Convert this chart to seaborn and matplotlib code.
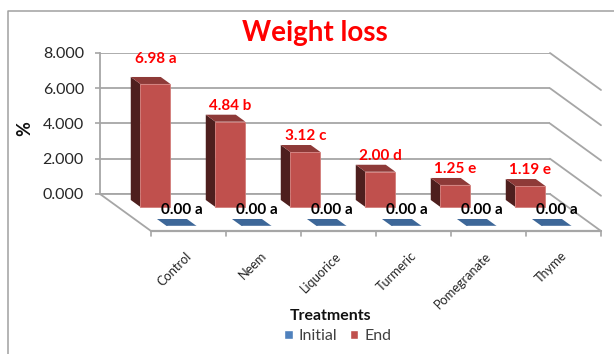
import matplotlib
matplotlib.use("Agg")
import matplotlib.pyplot as plt
from matplotlib.lines import Line2D
from matplotlib.patches import Polygon
from matplotlib.ticker import FuncFormatter
from matplotlib.transforms import ScaledTranslation
import pandas as pd
import seaborn as sns

treatments = ["Control", "Neem", "Liquorice", "Turmeric", "Pomegranate", "Thyme"]
initial_values = [0.00, 0.00, 0.00, 0.00, 0.00, 0.00]
end_values = [6.98, 4.84, 3.12, 2.00, 1.25, 1.19]
initial_letters = ["a", "a", "a", "a", "a", "a"]
end_letters = ["a", "b", "c", "d", "e", "e"]
y_ticks = [0, 2, 4, 6, 8]

sns.set_style("white")
plt.rcParams["font.family"] = ["Lato", "DejaVu Sans"]

W, H = 614, 354
fig = plt.figure(figsize=(W / 100, H / 100), dpi=100, facecolor="white")
ax = fig.add_axes([100 / W, 1 - 194 / H, 450 / W, 141 / H], facecolor="none")

df = pd.DataFrame({
    "Treatment": treatments * 2,
    "Weight": initial_values + end_values,
    "Series": ["Initial"] * 6 + ["End"] * 6,
})
sns.barplot(data=df, x="Treatment", y="Weight", hue="Series", hue_order=["Initial", "End"],
            dodge=False, width=0.4, saturation=1, errorbar=None,
            palette={"Initial": "#4F81BD", "End": "#C0504D"}, ax=ax)
ax.set_xlim(-0.5, 5.5)
ax.set_ylim(0, 8)

# Oblique projection: one unit of depth moves a point right and down the wall.
DX, DY = 51 / 75, 37 / 17.625
BAR_DEPTH = 7 / 37
END_FRONT, INITIAL_FRONT = 13 / 37, 32 / 37
GRID = "#a6a6a6"


def project(x, v, d):
    return x + DX * d, v - DY * d


def extrude(bar, front, side_color, top_color, zorder):
    x0, x1, v = bar.get_x(), bar.get_x() + bar.get_width(), bar.get_height()
    bar.set_xy(project(x0, 0, front))
    bar.set_clip_on(False)
    bar.set_zorder(zorder + 0.2)
    back = front - BAR_DEPTH
    if v > 0:
        side = [project(x0, 0, front), project(x0, v, front),
                project(x0, v, back), project(x0, 0, back)]
        ax.add_patch(Polygon(side, closed=True, fc=side_color, ec="none",
                             clip_on=False, zorder=zorder))
    top = [project(x0, v, front), project(x1, v, front),
           project(x1, v, back), project(x0, v, back)]
    ax.add_patch(Polygon(top, closed=True, fc=top_color, ec="none",
                         clip_on=False, zorder=zorder + 0.1))


for bar in ax.containers[1]:
    extrude(bar, END_FRONT, "#4E1F1E", "#8E3A38", 3)
    bar.set_edgecolor("#D27C79")
    bar.set_linewidth(0.6)
for bar in ax.containers[0]:
    extrude(bar, INITIAL_FRONT, "#2F4D73", "#3D6798", 4)

# Back wall, side wall and floor
ax.grid(axis="y", color=GRID, lw=1.3, zorder=1)
ax.set_axisbelow(True)
for side in ("top", "right"):
    ax.spines[side].set_visible(False)
for side in ("left", "bottom"):
    ax.spines[side].set_visible(True)
    ax.spines[side].set_color(GRID)
    ax.spines[side].set_linewidth(1.3)

for tick in y_ticks:
    ax.plot(*zip(project(5.5, tick, 0), project(5.5, tick, 1)), color=GRID, lw=1.3,
            clip_on=False, zorder=1)
ax.plot(*zip(project(-0.5, 0, 0), project(-0.5, 0, 1)), color=GRID, lw=1.3, clip_on=False, zorder=1)
ax.plot(*zip(project(-0.5, 0, 1), project(5.5, 0, 1)), color=GRID, lw=1.6, clip_on=False, zorder=1)
for i in range(len(treatments) + 1):
    x, v = project(i - 0.5, 0, 1)
    ax.plot([x, x], [v, v - 0.3], color=GRID, lw=1.2, clip_on=False, zorder=1)

# Axis text
ax.set_yticks(y_ticks)
ax.yaxis.set_major_formatter(FuncFormatter(lambda v, _: f"{v:.3f}"))
ax.tick_params(axis="y", left=True, length=3.6, width=1.2, color=GRID, pad=8,
               labelsize=11.5, labelcolor="#262626")
ax.tick_params(axis="x", bottom=False, pad=0, labelsize=9.2, labelcolor="#262626")
ax.set_xticks(range(len(treatments)))
ax.set_xticklabels(treatments)
shift = ScaledTranslation(0.52, -0.55, fig.dpi_scale_trans)
for label in ax.get_xticklabels():
    label.set_rotation(45)
    label.set_rotation_mode("anchor")
    label.set_ha("right")
    label.set_va("center")
    label.set_transform(label.get_transform() + shift)

ax.set_xlabel("")
ax.set_ylabel("")
fig.text(25 / W, 1 - 129 / H, "%", rotation=90, ha="center", va="center",
         fontsize=13, fontweight="bold", color="#111111")
fig.text(331 / W, 1 - 316 / H, "Treatments", ha="center", va="center",
         fontsize=11.4, fontweight="bold", color="#111111")
fig.text(315 / W, 1 - 33 / H, "Weight loss", ha="center", va="center",
         fontsize=20, fontweight="bold", color="#FF0000")

# Value labels sit above each bar's front face
for i, (value, letter) in enumerate(zip(end_values, end_letters)):
    x, v = project(i, value, END_FRONT)
    lift = 25 if i == 0 else 16
    ax.annotate(f"{value:.2f} {letter}", (x, v), xytext=(0, lift * 0.72),
                textcoords="offset points", ha="center", va="center",
                fontsize=11, fontweight="bold", color="#FF0000",
                annotation_clip=False, zorder=6)
for i, (value, letter) in enumerate(zip(initial_values, initial_letters)):
    x, v = project(i, value, INITIAL_FRONT)
    ax.annotate(f"{value:.2f} {letter}", (x, v), xytext=(0, 16 * 0.72),
                textcoords="offset points", ha="center", va="center",
                fontsize=11, fontweight="bold", color="black",
                annotation_clip=False, zorder=6)

handles, labels = ax.get_legend_handles_labels()
ax.legend(handles, labels, ncol=2, frameon=False, loc="center",
          bbox_to_anchor=(337.5 / W, 1 - 336 / H), bbox_transform=fig.transFigure,
          fontsize=11.5, labelcolor="#404040", handlelength=0.55, handleheight=0.55,
          handletextpad=0.35, columnspacing=0.8, borderpad=0, borderaxespad=0)

# Chart area frame, running off the canvas on the right and bottom
fig.add_artist(Line2D([7.5 / W, 7.5 / W, 1], [0, 1 - 10.5 / H, 1 - 10.5 / H],
                      color="#a0a0a0", lw=1.1, transform=fig.transFigure))

fig.savefig("out.png", dpi=100, facecolor="white")
